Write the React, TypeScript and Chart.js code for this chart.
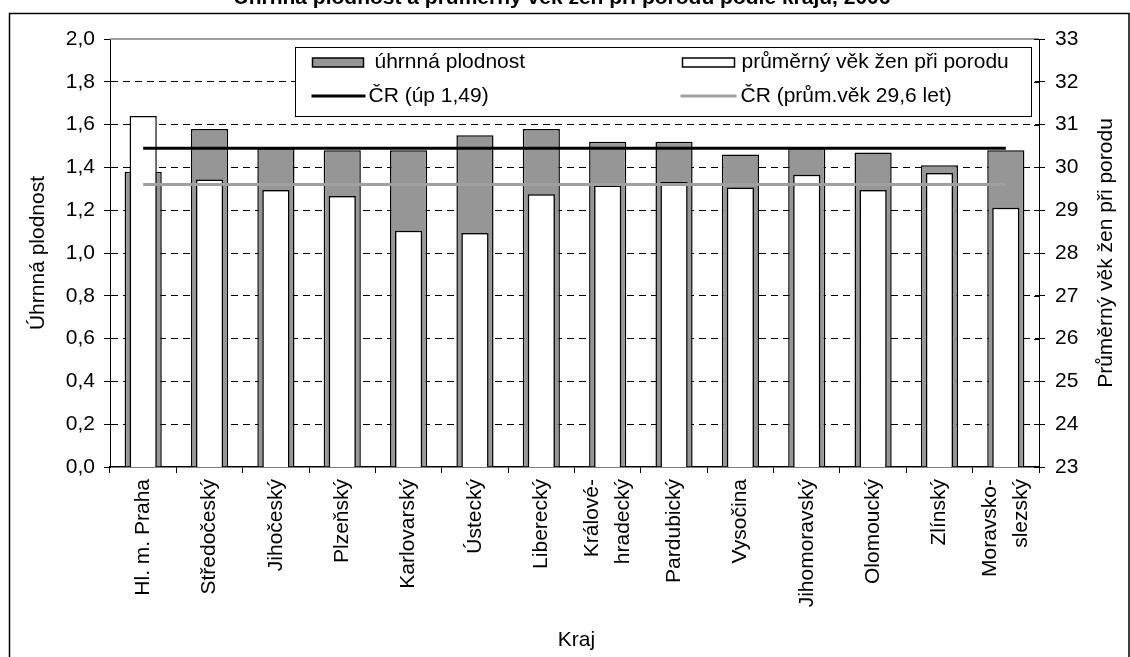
import React, { useEffect, useRef } from 'react';
import { Chart, registerables } from 'chart.js';

Chart.register(...registerables);

const FONT = "'Liberation Sans', Arial, Helvetica, sans-serif";

const titleText = 'Úhrnná plodnost a průměrný věk žen při porodu podle krajů, 2006';

const categories: (string | string[])[] = [
  'Hl. m. Praha',
  'Středočeský',
  'Jihočeský',
  'Plzeňský',
  'Karlovarský',
  'Ústecký',
  'Liberecký',
  ['Králové-', 'hradecký'],
  'Pardubický',
  'Vysočina',
  'Jihomoravský',
  'Olomoucký',
  'Zlínský',
  ['Moravsko-', 'slezský'],
];

// úhrnná plodnost (left axis)
const uhrnnaPlodnost = [1.38, 1.58, 1.49, 1.48, 1.48, 1.55, 1.58, 1.52, 1.52, 1.46, 1.49, 1.47, 1.41, 1.48];
// průměrný věk žen při porodu (right axis)
const prumernyVek = [31.2, 29.72, 29.47, 29.33, 28.52, 28.47, 29.37, 29.58, 29.66, 29.53, 29.83, 29.47, 29.87, 29.06];
// ČR reference lines
const crPlodnost = [1.49, 1.49, 1.49, 1.49, 1.49, 1.49, 1.49, 1.49, 1.49, 1.49, 1.49, 1.49, 1.49, 1.49];
const crVek = [29.6, 29.6, 29.6, 29.6, 29.6, 29.6, 29.6, 29.6, 29.6, 29.6, 29.6, 29.6, 29.6, 29.6];

const seriesNames = ['úhrnná plodnost', 'průměrný věk žen při porodu', 'ČR (úp 1,49)', 'ČR (prům.věk 29,6 let)'];
const axisTitles = { left: 'Úhrnná plodnost', right: 'Průměrný věk žen při porodu', bottom: 'Kraj' };

const GRAY_BAR = '#969696';
const GRAY_LINE = '#a0a0a0';

const overlayPlugin = {
  id: 'overlayPlugin',
  afterDraw(chart: any) {
    const ctx: CanvasRenderingContext2D = chart.ctx;
    const a = chart.chartArea;
    ctx.save();

    // outer frame
    ctx.strokeStyle = '#000';
    ctx.lineWidth = 1.5;
    ctx.strokeRect(9.5, 13.5, 1119.5, 700);

    // partially visible title
    ctx.fillStyle = '#000';
    ctx.font = `bold 21px ${FONT}`;
    ctx.textAlign = 'center';
    ctx.textBaseline = 'alphabetic';
    ctx.fillText(titleText, 562, 4);

    // top border of plot area
    ctx.strokeStyle = '#808080';
    ctx.lineWidth = 1.5;
    ctx.beginPath();
    ctx.moveTo(a.left, a.top);
    ctx.lineTo(a.right, a.top);
    ctx.stroke();

    // inner halves of right-axis ticks
    const y2 = chart.scales.y2;
    ctx.strokeStyle = '#000';
    ctx.lineWidth = 1;
    y2.ticks.forEach((_t: any, i: number) => {
      const y = Math.round(y2.getPixelForTick(i)) + 0.5;
      ctx.beginPath();
      ctx.moveTo(a.right - 5, y);
      ctx.lineTo(a.right, y);
      ctx.stroke();
    });

    // category labels (vertical, multi-line centred on the category)
    const xs = chart.scales.x;
    ctx.fillStyle = '#000';
    ctx.font = `21px ${FONT}`;
    ctx.textAlign = 'right';
    ctx.textBaseline = 'middle';
    const lineStep = 31;
    categories.forEach((c, i) => {
      const lines = Array.isArray(c) ? c : [c];
      const cx = xs.getPixelForValue(i);
      lines.forEach((t, j) => {
        const lx = cx + (j - (lines.length - 1) / 2) * lineStep;
        ctx.save();
        ctx.translate(lx, a.bottom + 12);
        ctx.rotate(-Math.PI / 2);
        ctx.fillText(t, 0, 0);
        ctx.restore();
      });
    });

    // legend
    const lx = a.left + 185.5;
    const ly = a.top + 8.5;
    const lw = 736;
    const lh = 69;
    ctx.fillStyle = '#fff';
    ctx.fillRect(lx, ly, lw, lh);
    ctx.strokeStyle = '#000';
    ctx.lineWidth = 1;
    ctx.strokeRect(lx, ly, lw, lh);

    const row1 = ly + 15;
    const row2 = ly + 48.5;
    // gray box
    ctx.fillStyle = GRAY_BAR;
    ctx.fillRect(lx + 17, row1 - 4.5, 51, 9);
    ctx.lineWidth = 1.5;
    ctx.strokeRect(lx + 17, row1 - 4.5, 51, 9);
    // white box
    ctx.fillStyle = '#fff';
    ctx.fillRect(lx + 387, row1 - 4.5, 52, 9);
    ctx.strokeRect(lx + 387, row1 - 4.5, 52, 9);
    // black line
    ctx.strokeStyle = '#000';
    ctx.lineWidth = 3;
    ctx.beginPath();
    ctx.moveTo(lx + 16, row2);
    ctx.lineTo(lx + 70, row2);
    ctx.stroke();
    // gray line
    ctx.strokeStyle = GRAY_LINE;
    ctx.beginPath();
    ctx.moveTo(lx + 385, row2);
    ctx.lineTo(lx + 441, row2);
    ctx.stroke();

    ctx.fillStyle = '#000';
    ctx.font = `21px ${FONT}`;
    ctx.textAlign = 'left';
    ctx.textBaseline = 'middle';
    ctx.fillText(seriesNames[0], lx + 79, row1);
    ctx.fillText(seriesNames[1], lx + 446, row1);
    ctx.fillText(seriesNames[2], lx + 73, row2);
    ctx.fillText(seriesNames[3], lx + 445, row2);

    // axis titles
    const midY = (a.top + a.bottom) / 2;
    ctx.textAlign = 'center';
    ctx.textBaseline = 'middle';
    ctx.save();
    ctx.translate(38, midY);
    ctx.rotate(-Math.PI / 2);
    ctx.fillText(axisTitles.left, 0, 0);
    ctx.restore();
    ctx.save();
    ctx.translate(1106, midY);
    ctx.rotate(-Math.PI / 2);
    ctx.fillText(axisTitles.right, 0, 0);
    ctx.restore();
    ctx.fillText(axisTitles.bottom, (a.left + a.right) / 2 + 2, 640);

    ctx.restore();
  },
};

export default function App() {
  const canvasRef = useRef<HTMLCanvasElement | null>(null);

  useEffect(() => {
    const canvas = canvasRef.current;
    if (!canvas) return;
    const tickFont = { family: FONT, size: 21 };
    const chart = new Chart(canvas, {
      type: 'bar',
      data: {
        labels: categories as any,
        datasets: [
          {
            type: 'line',
            label: seriesNames[2],
            data: crPlodnost,
            yAxisID: 'y',
            borderColor: '#000',
            borderWidth: 3,
            pointRadius: 0,
            fill: false,
            order: 0,
          } as any,
          {
            type: 'line',
            label: seriesNames[3],
            data: crVek,
            yAxisID: 'y2',
            borderColor: GRAY_LINE,
            borderWidth: 3,
            pointRadius: 0,
            fill: false,
            order: 0,
          } as any,
          {
            type: 'bar',
            label: seriesNames[1],
            data: prumernyVek,
            yAxisID: 'y2',
            backgroundColor: '#fff',
            borderColor: '#000',
            borderWidth: 1.5,
            grouped: false,
            categoryPercentage: 1,
            barPercentage: 0.41,
            order: 1,
          } as any,
          {
            type: 'bar',
            label: seriesNames[0],
            data: uhrnnaPlodnost,
            yAxisID: 'y',
            backgroundColor: GRAY_BAR,
            borderColor: '#000',
            borderWidth: 1.5,
            grouped: false,
            categoryPercentage: 1,
            barPercentage: 0.56,
            order: 2,
          } as any,
        ],
      },
      options: {
        responsive: false,
        animation: false,
        devicePixelRatio: 1,
        layout: { padding: { top: 39, left: 0, right: 0, bottom: 0 } },
        plugins: {
          legend: { display: false },
          tooltip: { enabled: false },
          title: { display: false },
        },
        scales: {
          x: {
            type: 'category',
            offset: true,
            grid: {
              display: true,
              drawOnChartArea: false,
              offset: true,
              tickLength: 6,
              color: '#000',
              tickColor: '#000',
            },
            border: { display: true, color: '#000', width: 1.5 },
            ticks: {
              display: false,
              autoSkip: false,
            },
            afterFit: (s: any) => {
              s.height = 190;
            },
          },
          y: {
            type: 'linear',
            position: 'left',
            min: 0,
            max: 2,
            ticks: {
              stepSize: 0.2,
              font: tickFont,
              color: '#000',
              padding: 9,
              callback: (v: any) => Number(v).toFixed(1).replace('.', ','),
            },
            grid: {
              color: (c: any) => {
                const v = c.tick ? c.tick.value : null;
                if (v === null) return '#000';
                if (Math.abs(v) < 1e-6 || Math.abs(v - 2) < 1e-6) return 'rgba(0,0,0,0)';
                return '#000';
              },
              tickColor: '#000',
              tickLength: 6,
              lineWidth: 1,
            },
            border: { display: true, color: '#000', width: 1, dash: [7, 5] },
            afterFit: (s: any) => {
              s.width = 110;
            },
          },
          y2: {
            type: 'linear',
            position: 'right',
            min: 23,
            max: 33,
            ticks: {
              stepSize: 1,
              font: tickFont,
              color: '#000',
              padding: 10,
            },
            grid: {
              drawOnChartArea: false,
              tickColor: '#000',
              tickLength: 6,
            },
            border: { display: true, color: '#000', width: 1 },
            afterFit: (s: any) => {
              s.width = 91;
            },
          },
        },
      },
      plugins: [overlayPlugin],
    } as any);
    return () => chart.destroy();
  }, []);

  return (
    <div style={{ position: 'fixed', left: 0, top: 0, width: 1130, height: 657, background: '#fff' }}>
      <canvas ref={canvasRef} width={1130} height={657} style={{ display: 'block', width: 1130, height: 657 }} />
    </div>
  );
}
